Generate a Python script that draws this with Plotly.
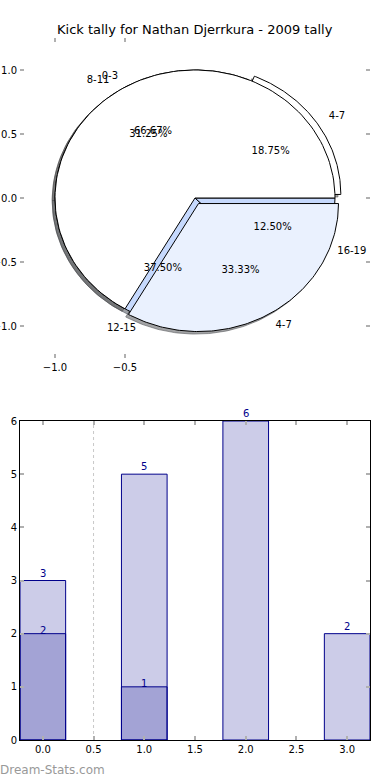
import numpy as np
import plotly.graph_objects as go

chart_title = "Kick tally for Nathan Djerrkura - 2009 tally"
footer_text = "Dream-Stats.com"

# Pie A (drawn underneath)
pie_a_labels = ["4-7", "8-11", "12-15", "16-19"]
pie_a_values = [3, 5, 6, 2]
pie_a_explode = [0.05, 0, 0, 0]
pie_a_colors = ["#ffffff", "#ffffff", "#c6d9fd", "#c6d9fd"]

# Pie B (drawn on top)
pie_b_labels = ["0-3", "4-7"]
pie_b_values = [2, 1]
pie_b_explode = [0, 0.05]
pie_b_colors = ["#ffffff", "#eaf1fe"]

# Bars
bar_x = [0, 1, 2, 3]
bar_light = [3, 5, 6, 2]
bar_dark_x = [0, 1]
bar_dark = [2, 1]

pie_xticks = [-1.0, -0.5]
pie_xticktext = ["\u22121.0", "\u22120.5"]
pie_yticks = [-1.0, -0.5, 0.0, 0.5, 1.0]
pie_yticktext = ["\u22121.0", "\u22120.5", "0.0", "0.5", "1.0"]
bar_xticks = [0, 0.5, 1, 1.5, 2, 2.5, 3]
bar_xticktext = ["0.0", "0.5", "1.0", "1.5", "2.0", "2.5", "3.0"]
bar_yticks = [0, 1, 2, 3, 4, 5, 6]

FONT = "DejaVu Sans"
W, H = 390, 780


def wedge_geom(values, explode):
    total = float(sum(values))
    res = []
    t1 = 0.0
    for v, e in zip(values, explode):
        frac = v / total
        t2 = t1 + 360.0 * frac
        tm = np.deg2rad((t1 + t2) / 2.0)
        cx, cy = e * np.cos(tm), e * np.sin(tm)
        res.append(dict(t1=t1, t2=t2, cx=cx, cy=cy, frac=frac, tm=tm))
        t1 = t2
    return res


def wedge_path(g, dx=0.0, dy=0.0, r=1.0):
    th = np.deg2rad(np.linspace(g["t1"], g["t2"], 120))
    xs = np.concatenate([[g["cx"]], g["cx"] + r * np.cos(th), [g["cx"]]]) + dx
    ys = np.concatenate([[g["cy"]], g["cy"] + r * np.sin(th), [g["cy"]]]) + dy
    return xs, ys


def hex_rgb(h):
    h = h.lstrip("#")
    return tuple(int(h[i:i + 2], 16) for i in (0, 2, 4))


fig = go.Figure()

geo_a = wedge_geom(pie_a_values, pie_a_explode)
geo_b = wedge_geom(pie_b_values, pie_b_explode)

# shadows (all beneath the wedges)
for geo, cols in ((geo_a, pie_a_colors), (geo_b, pie_b_colors)):
    for g, c in zip(geo, cols):
        r, gg, b = hex_rgb(c)
        sc = "rgba(%d,%d,%d,0.5)" % (int(0.3 * r), int(0.3 * gg), int(0.3 * b))
        xs, ys = wedge_path(g, -0.02, -0.02)
        fig.add_trace(go.Scatter(x=xs, y=ys, mode="lines", fill="toself",
                                 fillcolor=sc, line=dict(color=sc, width=1),
                                 hoverinfo="skip", showlegend=False,
                                 xaxis="x", yaxis="y"))

# wedges
for geo, cols in ((geo_a, pie_a_colors), (geo_b, pie_b_colors)):
    for g, c in zip(geo, cols):
        xs, ys = wedge_path(g)
        fig.add_trace(go.Scatter(x=xs, y=ys, mode="lines", fill="toself",
                                 fillcolor=c, line=dict(color="black", width=1),
                                 hoverinfo="skip", showlegend=False,
                                 xaxis="x", yaxis="y"))

# labels and percentages
for geo, labs in ((geo_a, pie_a_labels), (geo_b, pie_b_labels)):
    for g, lab in zip(geo, labs):
        xt = g["cx"] + 1.1 * np.cos(g["tm"])
        yt = g["cy"] + 1.1 * np.sin(g["tm"])
        pos = "middle right" if xt > 0 else "middle left"
        fig.add_trace(go.Scatter(x=[xt], y=[yt], mode="text", text=[lab],
                                 textposition=pos,
                                 textfont=dict(family=FONT, size=10, color="black"),
                                 hoverinfo="skip", showlegend=False,
                                 xaxis="x", yaxis="y"))
        xp = g["cx"] + 0.6 * np.cos(g["tm"])
        yp = g["cy"] + 0.6 * np.sin(g["tm"])
        fig.add_trace(go.Scatter(x=[xp], y=[yp], mode="text",
                                 text=["%.2f%%" % (100 * g["frac"])],
                                 textposition="middle center",
                                 textfont=dict(family=FONT, size=10, color="black"),
                                 hoverinfo="skip", showlegend=False,
                                 xaxis="x", yaxis="y"))

# bars
bar_fill = "rgba(0,0,139,0.2)"
bar_edge = "#00008b"
fig.add_trace(go.Bar(x=bar_x, y=bar_light, width=0.45,
                     marker=dict(color=bar_fill, line=dict(color=bar_edge, width=1)),
                     hoverinfo="skip", showlegend=False, xaxis="x2", yaxis="y2"))
fig.add_trace(go.Bar(x=bar_dark_x, y=bar_dark, width=0.45,
                     marker=dict(color=bar_fill, line=dict(color=bar_edge, width=1)),
                     hoverinfo="skip", showlegend=False, xaxis="x2", yaxis="y2"))

annotations = []
for xv, yv in zip(bar_x, bar_light):
    annotations.append(dict(x=xv, y=yv, xref="x2", yref="y2", text=str(yv),
                            showarrow=False, yanchor="bottom", yshift=0,
                            font=dict(family=FONT, size=10, color=bar_edge)))
for xv, yv in zip(bar_dark_x, bar_dark):
    annotations.append(dict(x=xv, y=yv, xref="x2", yref="y2", text=str(yv),
                            showarrow=False, yanchor="middle", yshift=3,
                            font=dict(family=FONT, size=10, color=bar_edge)))
annotations.append(dict(x=0.5, y=1 - 30 / H, xref="paper", yref="paper",
                        text=chart_title, showarrow=False, xanchor="center",
                        yanchor="middle",
                        font=dict(family=FONT, size=13, color="black")))
annotations.append(dict(x=0, y=1 - 770 / H, xref="paper", yref="paper",
                        text=footer_text, showarrow=False, xanchor="left",
                        yanchor="middle", xshift=-2,
                        font=dict(family=FONT, size=12, color="#999999")))

tick_font = dict(family=FONT, size=10, color="black")
xdom = [20 / W, 370 / W]

common_tick = dict(ticks="inside", ticklen=4, tickwidth=1.5, tickcolor="#b0b0b0",
                   showgrid=False, zeroline=False, automargin=False,
                   tickfont=tick_font, mirror="ticks")

fig.update_layout(
    width=W, height=H, template="none",
    paper_bgcolor="white", plot_bgcolor="white",
    margin=dict(l=0, r=0, t=0, b=0),
    barmode="overlay", showlegend=False,
    xaxis=dict(domain=xdom, range=[-1.25, 1.25], anchor="y",
               tickmode="array", tickvals=pie_xticks, ticktext=pie_xticktext,
               showline=True, linecolor="rgba(0,0,0,0)", fixedrange=True,
               **common_tick),
    yaxis=dict(domain=[1 - 358 / H, 1 - 38 / H], range=[-1.25, 1.25], anchor="x",
               tickmode="array", tickvals=pie_yticks, ticktext=pie_yticktext,
               showline=True, linecolor="rgba(0,0,0,0)", fixedrange=True,
               **common_tick),
    xaxis2=dict(domain=xdom, range=[-0.225, 3.225], anchor="y2",
                tickmode="array", tickvals=bar_xticks, ticktext=bar_xticktext,
                showline=True, linecolor="black", linewidth=1,
                **common_tick),
    yaxis2=dict(domain=[1 - 740 / H, 1 - 421 / H], range=[0, 6], anchor="x2",
                tickmode="array", tickvals=bar_yticks,
                ticktext=[str(v) for v in bar_yticks],
                showline=True, linecolor="black", linewidth=1,
                **common_tick),
    annotations=annotations,
    shapes=[dict(type="line", xref="x2", yref="y2 domain", x0=0.5, x1=0.5,
                 y0=0, y1=1, layer="below",
                 line=dict(color="#c8c8c8", width=1, dash="dot"))],
)

fig.write_html(
    "out.html",
    config={"displayModeBar": False},
    post_script="document.body.style.margin='0';document.body.style.padding='0';"
                "document.body.style.overflow='hidden';",
)
